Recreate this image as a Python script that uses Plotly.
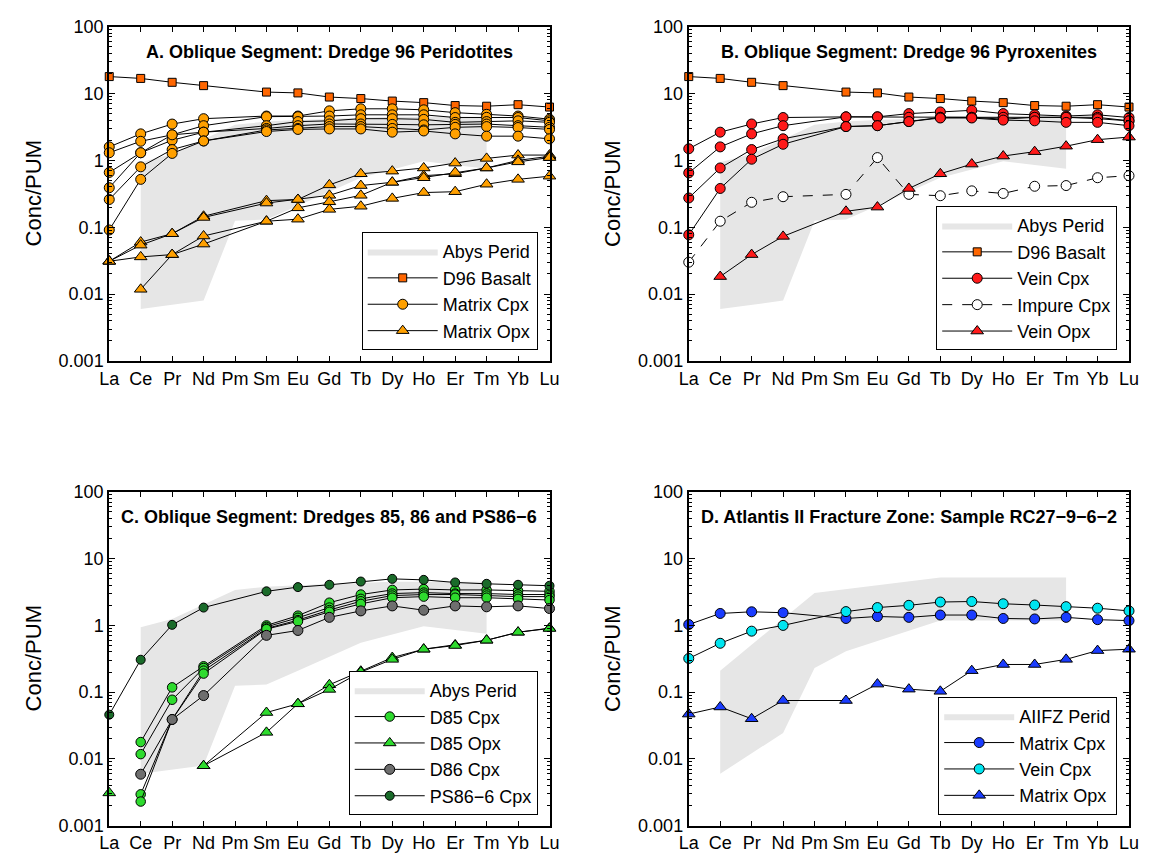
import plotly.graph_objects as go

# ---------------- data ----------------
elements = ["La", "Ce", "Pr", "Nd", "Pm", "Sm", "Eu", "Gd", "Tb", "Dy", "Ho", "Er", "Tm", "Yb", "Lu"]
xpos = list(range(1, 16))
N = None

y_tickvals = [0.001, 0.01, 0.1, 1, 10, 100]
y_ticktext = ["0.001", "0.01", "0.1", "1", "10", "100"]

# Abyssal peridotite field (polygon vertices: element index, value)
abys_x = [2, 3, 5, 6, 7, 10, 13, 13, 11, 9, 7, 6, 5, 4, 2]
abys_y = [0.94, 1.25, 3.4, 3.8, 4.0, 4.5, 4.5, 0.75, 0.97, 0.55, 0.21, 0.13, 0.125, 0.008, 0.006]

# AIIFZ peridotite field
aiifz_x = [2, 5, 9, 13, 13, 9, 6, 5, 4, 2]
aiifz_y = [0.21, 3.06, 5.2, 5.2, 1.18, 1.18, 0.41, 0.23, 0.0245, 0.006]

# D96 basalt
d96_basalt = [17.9, 16.8, 14.7, 13.1, N, 10.5, 10.2, 8.85, 8.4, 7.7, 7.3, 6.6, 6.45, 6.8, 6.27]

# Panel A: Dredge 96 peridotites
a_matrix_cpx = [
    [1.59, 2.49, 3.49, 4.2, N, 4.6, 4.6, 5.5, 5.9, 5.9, 5.7, 5.17, 4.88, 4.6, 4.13],
    [1.30, 1.93, 2.41, 3.3, N, 4.5, 4.5, 4.6, 4.8, 4.8, 4.8, 4.37, 4.4, 4.37, 3.9],
    [0.66, 1.30, 2.0, 2.64, N, 3.3, 3.8, 3.9, 4.2, 4.2, 4.1, 3.7, 3.8, 3.9, 3.7],
    [0.39, 1.30, 2.41, 2.64, N, 3.0, 3.3, 3.5, 3.5, 3.45, 3.4, 3.45, 3.49, 3.3, 3.12],
    [0.26, 0.80, 1.45, 1.95, N, 2.85, 3.0, 3.2, 3.2, 3.0, 2.85, 3.12, 3.2, 3.1, 2.9],
    [0.091, 0.52, 1.27, 1.95, N, 2.7, 2.9, 2.95, 2.95, 2.64, 2.75, 2.49, 2.3, 2.3, 2.1],
]
a_matrix_opx = [
    [0.031, 0.060, 0.080, 0.146, N, 0.25, 0.26, 0.43, 0.63, 0.69, 0.77, 0.91, 1.07, 1.2, 1.2],
    [0.031, 0.054, 0.080, 0.14, N, 0.23, 0.26, 0.30, 0.42, 0.47, 0.59, 0.63, 0.77, 1.0, 1.15],
    [0.031, 0.036, 0.039, 0.074, N, 0.123, 0.195, 0.24, 0.30, 0.47, 0.55, 0.66, 0.77, 0.95, 1.1],
    [N, 0.0118, 0.039, 0.056, N, 0.123, 0.132, 0.185, 0.206, 0.27, 0.33, 0.34, 0.44, 0.52, 0.58],
]

# Panel B: Dredge 96 pyroxenites
b_vein_cpx = [
    [1.49, 2.64, 3.5, 4.37, N, 4.47, 4.47, 5.0, 5.3, 5.6, 5.0, 4.8, 4.6, 4.8, 4.37],
    [0.65, 1.59, 2.49, 3.3, N, 4.47, 4.47, 4.4, 4.4, 4.4, 4.13, 4.4, 4.4, 4.4, 3.9],
    [0.274, 0.77, 1.45, 2.1, N, 3.2, 3.3, 3.8, 4.4, 4.4, 4.4, 4.4, 4.4, 4.2, 3.9],
    [0.077, 0.38, 1.04, 1.74, N, 3.2, 3.3, 3.8, 4.3, 4.3, 4.0, 3.9, 3.7, 3.7, 3.3],
]
b_impure_cpx = [0.030, 0.123, 0.236, 0.286, N, 0.31, 1.1, 0.31, 0.296, 0.35, 0.32, 0.41, 0.42, 0.55, 0.59]
b_vein_opx = [N, 0.0183, 0.039, 0.073, N, 0.173, 0.2, 0.38, 0.63, 0.88, 1.16, 1.35, 1.63, 2.04, 2.23]

# Panel C: Dredges 85, 86 and PS86-6
c_d85_cpx = [
    [N, 0.0179, 0.118, 0.244, N, 1.0, 1.4, 2.19, 2.9, 3.4, 3.5, 3.4, 3.4, 3.3, 3.24],
    [N, 0.0118, 0.077, 0.23, N, 0.95, 1.3, 1.85, 2.5, 3.0, 3.1, 3.0, 3.0, 2.9, 2.9],
    [N, 0.00295, 0.039, 0.21, N, 0.9, 1.2, 1.7, 2.3, 2.8, 2.9, 2.9, 2.8, 2.7, 2.7],
    [N, 0.0023, 0.039, 0.19, N, 0.88, 1.15, 1.6, 2.1, 2.6, 2.7, 2.6, 2.6, 2.5, 2.4],
]
c_d85_opx = [
    [N, N, N, 0.0079, N, 0.0496, 0.067, 0.129, 0.206, 0.33, 0.44, 0.51, 0.6, 0.79, 0.91],
    [N, N, N, 0.0079, N, 0.025, 0.067, 0.11, 0.2, 0.31, 0.44, 0.50, 0.6, 0.79, 0.9],
    [0.0031, N, N, N, N, N, N, N, N, N, N, N, N, N, N],
]
c_d86_cpx = [N, 0.0059, 0.039, 0.089, N, 0.71, 0.84, 1.32, 1.65, 1.96, 1.69, 1.96, 1.9, 1.96, 1.79]
c_ps86_cpx = [0.046, 0.306, 1.02, 1.85, N, 3.24, 3.75, 4.06, 4.54, 4.98, 4.81, 4.4, 4.2, 4.06, 3.93]

# Panel D: Atlantis II FZ sample RC27-9-6-2
d_matrix_cpx = [1.03, 1.51, 1.6, 1.55, N, 1.27, 1.36, 1.32, 1.43, 1.43, 1.27, 1.25, 1.32, 1.22, 1.18]
d_vein_cpx = [0.32, 0.54, 0.82, 1.0, N, 1.61, 1.85, 2.0, 2.24, 2.28, 2.11, 2.02, 1.91, 1.81, 1.65]
d_matrix_opx = [0.047, 0.060, 0.040, 0.075, N, 0.075, 0.132, 0.111, 0.103, 0.21, 0.26, 0.26, 0.31, 0.42, 0.44]

# ---------------- styling ----------------
W, H = 1156, 865
FONT = "Liberation Sans, Arial, Helvetica, sans-serif"
GRAY_FILL = "#e6e6e6"
ORANGE = "#FFA000"
BASALT = "#FF6600"
RED = "#FF1A1A"
LGREEN = "#2EDB2E"
DGREEN = "#1A6B2A"
DGRAY = "#6E6E6E"
BLUE = "#1A3CFF"
CYAN = "#00E5F0"

# panel geometry in pixels: (left, right, top, bottom)
panels = {
    "A": (101, 549, 17, 359.3),
    "B": (690.7, 1138.7, 17, 359.3),
    "C": (101, 549, 493.3, 835),
    "D": (690.7, 1138.7, 493.3, 835),
}
axis_ids = {"A": ("x", "y", "legend"), "B": ("x2", "y2", "legend2"),
            "C": ("x3", "y3", "legend3"), "D": ("x4", "y4", "legend4")}
titles = {
    "A": "A. Oblique Segment: Dredge 96 Peridotites",
    "B": "B. Oblique Segment: Dredge 96 Pyroxenites",
    "C": "C. Oblique Segment: Dredges 85, 86 and PS86\u22126",
    "D": "D. Atlantis II Fracture Zone: Sample RC27\u22129\u22126\u22122",
}

fig = go.Figure()


def add_series(panel, name, values_list, symbol, color, size, rank, dash="solid", lcolor="black"):
    xa, ya, lg = axis_ids[panel]
    for i, vals in enumerate(values_list):
        fig.add_trace(go.Scatter(
            x=xpos, y=vals, xaxis=xa, yaxis=ya, mode="lines+markers",
            name=name, legend=lg, legendgroup=panel + name, showlegend=(i == 0),
            legendrank=rank, connectgaps=True, cliponaxis=False,
            line=dict(color=lcolor, width=1, dash=dash),
            marker=dict(symbol=symbol, size=size, color=color,
                        line=dict(color="black", width=1)),
        ))


def add_field(panel, name, xs, ys):
    xa, ya, lg = axis_ids[panel]
    fig.add_trace(go.Scatter(
        x=xs, y=ys, xaxis=xa, yaxis=ya, mode="lines", fill="toself",
        fillcolor=GRAY_FILL, line=dict(width=0, color=GRAY_FILL),
        name=name, legend=lg, legendrank=1, showlegend=True, hoverinfo="skip",
    ))


# Panel A
add_field("A", "Abys Perid", abys_x, abys_y)
add_series("A", "D96 Basalt", [d96_basalt], "square", BASALT, 8, 2)
add_series("A", "Matrix Cpx", a_matrix_cpx, "circle", ORANGE, 10, 3)
add_series("A", "Matrix Opx", a_matrix_opx, "triangle-up", ORANGE, 11, 4)

# Panel B
add_field("B", "Abys Perid", abys_x, abys_y)
add_series("B", "D96 Basalt", [d96_basalt], "square", BASALT, 8, 2)
add_series("B", "Vein Cpx", b_vein_cpx, "circle", RED, 10, 3)
add_series("B", "Impure Cpx", [b_impure_cpx], "circle", "white", 10, 4, dash="10px,10px")
add_series("B", "Vein Opx", [b_vein_opx], "triangle-up", RED, 11, 5)

# Panel C
add_field("C", "Abys Perid", abys_x, abys_y)
add_series("C", "D85 Cpx", c_d85_cpx, "circle", LGREEN, 9.5, 2)
add_series("C", "D85 Opx", c_d85_opx, "triangle-up", LGREEN, 11, 3)
add_series("C", "D86 Cpx", [c_d86_cpx], "circle", DGRAY, 10, 4)
add_series("C", "PS86\u22126 Cpx", [c_ps86_cpx], "circle", DGREEN, 9, 5)

# Panel D
add_field("D", "AIIFZ Perid", aiifz_x, aiifz_y)
add_series("D", "Matrix Cpx", [d_matrix_cpx], "circle", BLUE, 10, 2)
add_series("D", "Vein Cpx", [d_vein_cpx], "circle", CYAN, 10, 3)
add_series("D", "Matrix Opx", [d_matrix_opx], "triangle-up", BLUE, 11, 4)

layout = dict(
    width=W, height=H, autosize=False,
    margin=dict(l=0, r=0, t=0, b=0),
    paper_bgcolor="white", plot_bgcolor="white",
    font=dict(family=FONT, size=18, color="black"),
    showlegend=True,
    annotations=[],
)

for key, (l, r, t, b) in panels.items():
    xa, ya, lg = axis_ids[key]
    xdom = [l / W, r / W]
    ydom = [(H - b) / H, (H - t) / H]
    xname = "xaxis" + xa[1:]
    yname = "yaxis" + ya[1:]
    layout[xname] = dict(
        domain=xdom, anchor=ya, range=[1, 15],
        tickmode="array", tickvals=xpos, ticktext=elements,
        ticks="inside", ticklen=5, tickwidth=1, tickcolor="black",
        showline=True, linewidth=2, linecolor="black", mirror="ticks",
        showgrid=False, zeroline=False,
        tickfont=dict(size=18, family=FONT, color="black"),
    )
    layout[yname] = dict(
        domain=ydom, anchor=xa, type="log", range=[-3, 2],
        tickmode="array", tickvals=y_tickvals, ticktext=y_ticktext,
        ticks="inside", ticklen=6, tickwidth=1, tickcolor="black",
        minor=dict(ticks="inside", ticklen=3, tickcolor="black", dtick="D1", showgrid=False),
        showline=True, linewidth=2, linecolor="black", mirror="ticks",
        showgrid=False, zeroline=False,
        tickfont=dict(size=18, family=FONT, color="black"),
    )
    # legend, anchored at lower right inside the plot
    layout[lg] = dict(
        x=(r - 12) / W, xanchor="right",
        y=(H - b + 11) / H, yanchor="bottom",
        bordercolor="black", borderwidth=1, bgcolor="white",
        font=dict(size=18, family=FONT, color="black"),
        itemwidth=70, tracegroupgap=0, traceorder="normal",
    )
    # panel title
    layout["annotations"].append(dict(
        text="<b>" + titles[key] + "</b>", xref="paper", yref="paper",
        x=(l + r) / 2 / W, y=(H - (t + 26)) / H, xanchor="center", yanchor="middle",
        showarrow=False, font=dict(size=18, family=FONT, color="black"),
    ))
    # y-axis title
    layout["annotations"].append(dict(
        text="Conc/PUM", xref="paper", yref="paper",
        x=(l - 77) / W, y=(H - (t + b) / 2) / H, xanchor="center", yanchor="middle",
        textangle=-90, showarrow=False, font=dict(size=22, family=FONT, color="black"),
    ))

fig.update_layout(**layout)
fig.write_html("out.html")
